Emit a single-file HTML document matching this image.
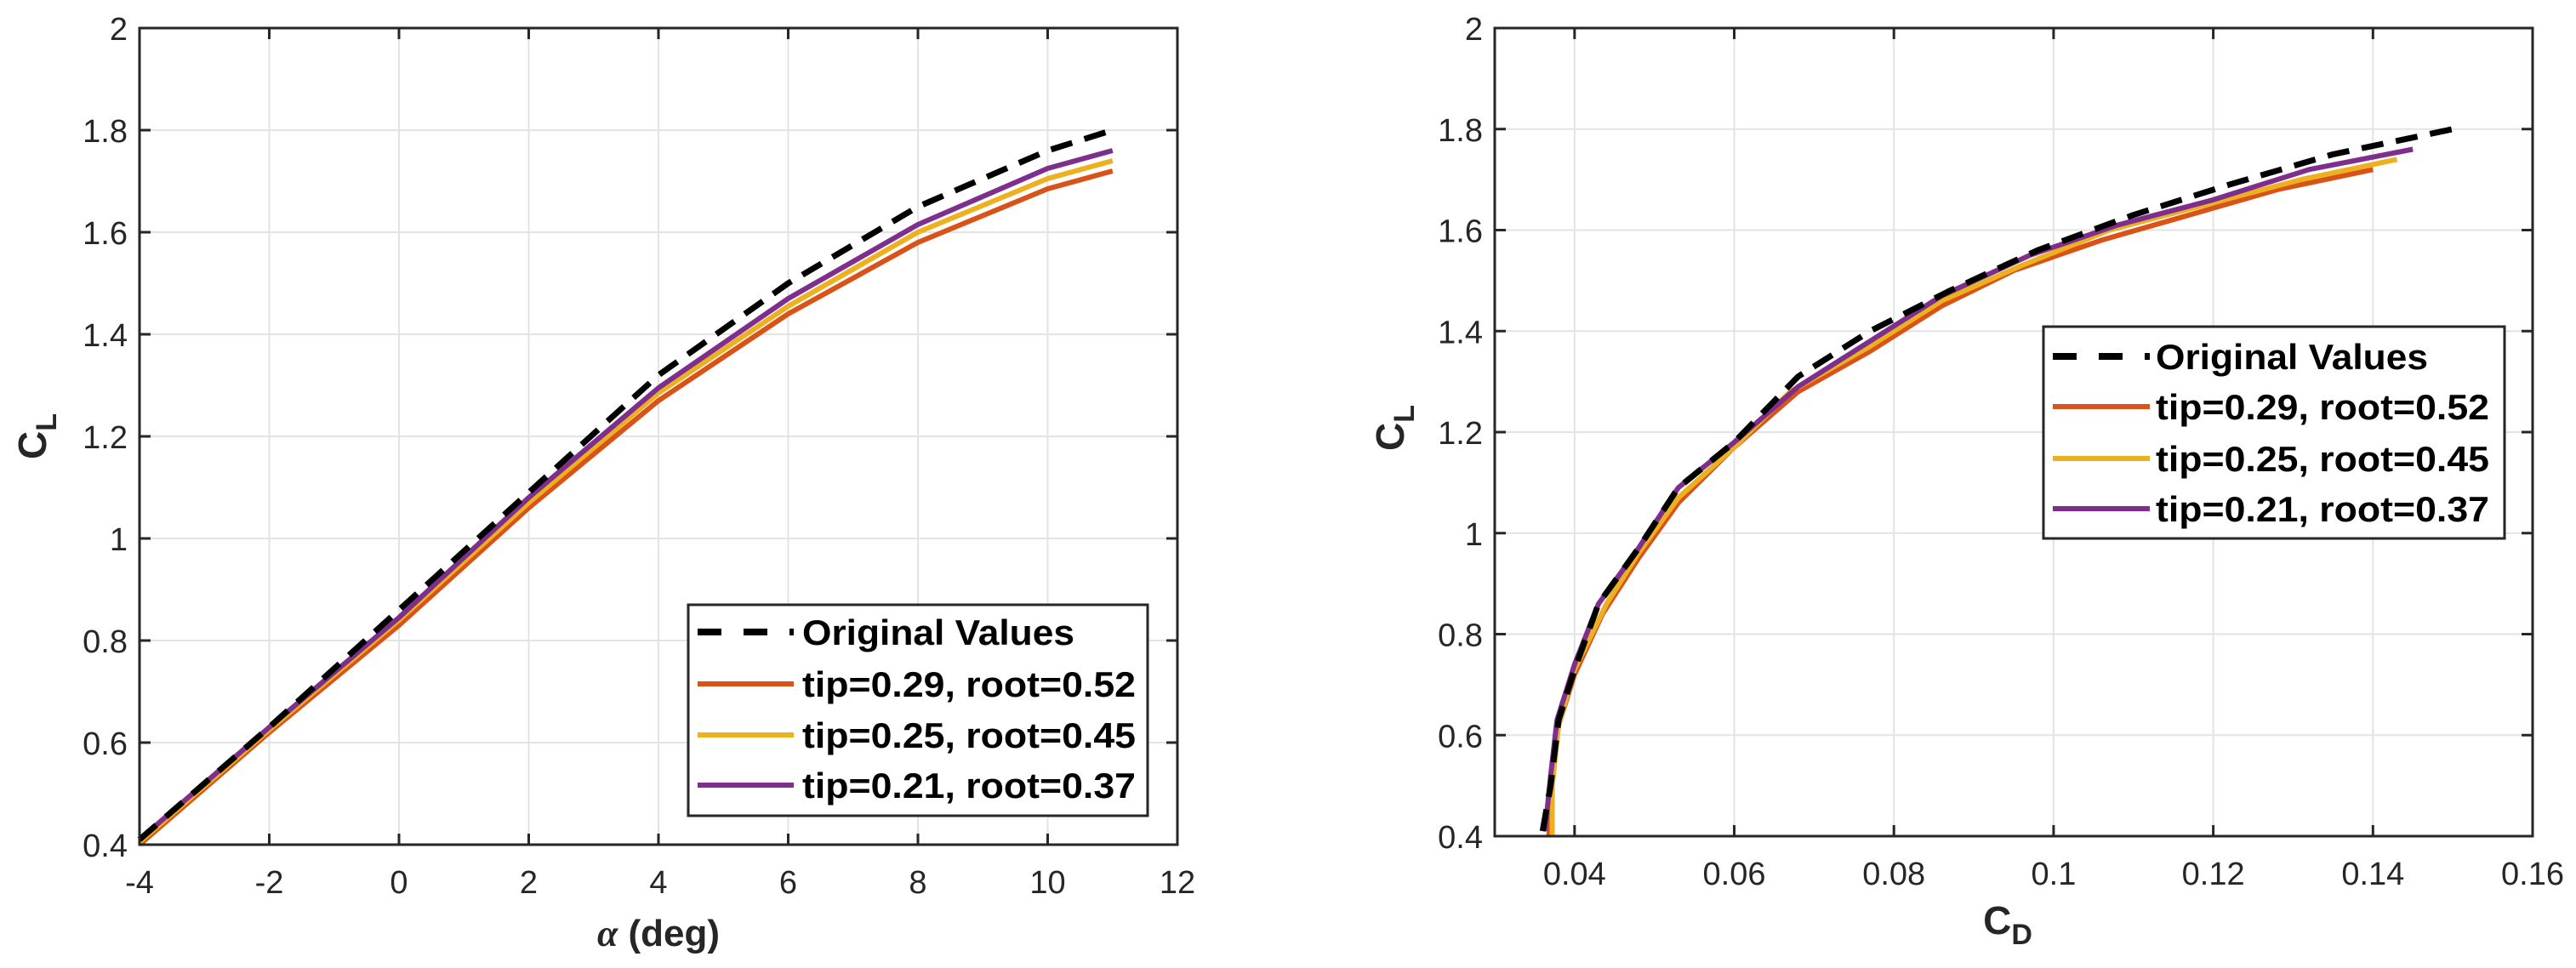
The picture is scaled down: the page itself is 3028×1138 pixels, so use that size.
<!DOCTYPE html>
<html><head><meta charset="utf-8">
<style>
html,body{margin:0;padding:0;background:#fff;}
svg{display:block;}
text{font-family:"Liberation Sans",Arial,sans-serif;}
</style></head>
<body>
<svg id="fig" width="3028" height="1138" viewBox="0 0 3028 1138" xmlns="http://www.w3.org/2000/svg">
<rect width="3028" height="1138" fill="#fff"/>
</svg>
<script>
// ---- Left chart data (CL vs alpha) ----
const alphaDeg = [-4, -2, 0, 2, 4, 6, 8, 10, 11];
const clOriginal = [0.41, 0.63, 0.86, 1.09, 1.32, 1.50, 1.65, 1.76, 1.80];
const clTip29 = [0.40, 0.62, 0.83, 1.06, 1.27, 1.44, 1.58, 1.685, 1.72];
const clTip25 = [0.405, 0.625, 0.84, 1.07, 1.285, 1.455, 1.60, 1.705, 1.74];
const clTip21 = [0.41, 0.63, 0.845, 1.08, 1.295, 1.47, 1.615, 1.725, 1.76];
const leftXTicks = [-4, -2, 0, 2, 4, 6, 8, 10, 12];
const yTicks = [0.4, 0.6, 0.8, 1, 1.2, 1.4, 1.6, 1.8, 2];

// ---- Right chart data (CL vs CD) ----
const cdOriginal = [0.036, 0.037, 0.038, 0.040, 0.043, 0.048, 0.053, 0.060, 0.068, 0.077, 0.087, 0.098, 0.110, 0.122, 0.135, 0.150];
const clOrigPolar = [0.41, 0.50, 0.63, 0.73, 0.86, 0.97, 1.09, 1.18, 1.31, 1.40, 1.48, 1.56, 1.63, 1.69, 1.75, 1.80];
const cdTip29 = [0.0368, 0.037, 0.0378, 0.040, 0.0435, 0.048, 0.053, 0.060, 0.068, 0.077, 0.086, 0.095, 0.106, 0.117, 0.128, 0.140];
const clTip29Polar = [0.40, 0.50, 0.61, 0.72, 0.84, 0.95, 1.06, 1.17, 1.28, 1.36, 1.45, 1.52, 1.58, 1.63, 1.68, 1.72];
const cdTip25 = [0.0372, 0.0372, 0.038, 0.040, 0.044, 0.048, 0.053, 0.060, 0.067, 0.077, 0.086, 0.096, 0.107, 0.119, 0.131, 0.143];
const clTip25Polar = [0.40, 0.50, 0.62, 0.73, 0.86, 0.96, 1.07, 1.17, 1.28, 1.37, 1.46, 1.53, 1.60, 1.65, 1.70, 1.74];
const cdTip21 = [0.0363, 0.037, 0.0378, 0.040, 0.043, 0.048, 0.053, 0.060, 0.068, 0.077, 0.086, 0.097, 0.108, 0.120, 0.132, 0.145];
const clTip21Polar = [0.41, 0.52, 0.63, 0.74, 0.86, 0.97, 1.09, 1.18, 1.29, 1.38, 1.47, 1.55, 1.61, 1.66, 1.72, 1.76];
const rightXTicks = [0.04, 0.06, 0.08, 0.1, 0.12, 0.14, 0.16];

const seriesNames = ["Original Values", "tip=0.29, root=0.52", "tip=0.25, root=0.45", "tip=0.21, root=0.37"];
const seriesColors = ["#000000", "#D95319", "#EDB120", "#7E2F8E"];

const NS = "http://www.w3.org/2000/svg";
const svg = document.getElementById("fig");
function mk(tag, attrs, parent) {
  const e = document.createElementNS(NS, tag);
  for (const k in attrs) e.setAttribute(k, attrs[k]);
  (parent || svg).appendChild(e);
  return e;
}

function drawAxes(g, L, T, R, B, xmin, xmax, xTicks, xLabelFmt, sx, sy) {
  xTicks.forEach(v => {
    const x = sx(v);
    const gl = mk("line", {x1: x, x2: x, y1: T, y2: B, stroke: "#e3e3e3", "stroke-width": 2}, g);
    
    
  });
  yTicks.forEach(v => {
    const y = sy(v);
    const gl = mk("line", {x1: L, x2: R, y1: y, y2: y, stroke: "#e3e3e3", "stroke-width": 2}, g);
    
    
  });
}

function drawFrame(g, L, T, R, B, xTicks, sx, sy) {
  const fr = mk("rect", {x: L, y: T, width: R - L, height: B - T, fill: "none", stroke: "#262626", "stroke-width": 3}, g);
  
  
  xTicks.forEach(v => {
    const x = sx(v);
    mk("line", {x1: x, x2: x, y1: B, y2: B - 13, stroke: "#262626", "stroke-width": 3}, g);
    mk("line", {x1: x, x2: x, y1: T, y2: T + 13, stroke: "#262626", "stroke-width": 3}, g);
    const t = mk("text", {x: x, y: B + 57, "text-anchor": "middle", "font-size": 38, fill: "#262626"}, g);
    
    
    t.textContent = String(v);
  });
  yTicks.forEach(v => {
    const y = sy(v);
    mk("line", {x1: L, x2: L + 13, y1: y, y2: y, stroke: "#262626", "stroke-width": 3}, g);
    mk("line", {x1: R, x2: R - 13, y1: y, y2: y, stroke: "#262626", "stroke-width": 3}, g);
    const t = mk("text", {x: L - 14, y: y + 14, "text-anchor": "end", "font-size": 38, fill: "#262626"}, g);
    
    
    t.textContent = String(v);
  });
}

function drawLine(g, xs, ys, sx, sy, idx, name) {
  const pts = xs.map((v, i) => sx(v).toFixed(1) + "," + sy(ys[i]).toFixed(1)).join(" ");
  const attrs = {points: pts, fill: "none", stroke: seriesColors[idx], "stroke-width": idx === 0 ? 7 : 6, "stroke-linejoin": "round"};
  if (idx === 0) attrs["stroke-dasharray"] = "26 15";
  const p = mk("polyline", attrs, g);
  
  
}

function drawLegend(g, x0, y0, x1, y1, rows, lx0, lx1, tx) {
  const box = mk("rect", {x: x0, y: y0, width: x1 - x0, height: y1 - y0, fill: "#fff", stroke: "#262626", "stroke-width": 3}, g);
  
  
  seriesNames.forEach((n, i) => {
    const y = rows[i];
    const ln = mk("line", {x1: lx0, x2: lx1, y1: y, y2: y, stroke: seriesColors[i], "stroke-width": i === 0 ? 8 : 6}, g);
    if (i === 0) ln.setAttribute("stroke-dasharray", "28 26");
    
    
    const t = mk("text", {x: tx, y: y + 15, "font-size": 42, "font-weight": "bold", fill: "#000"}, g);
    if (i > 0) { t.setAttribute("textLength", 392); t.setAttribute("lengthAdjust", "spacingAndGlyphs"); }
    else { t.setAttribute("textLength", 320); t.setAttribute("lengthAdjust", "spacingAndGlyphs"); }
    
    
    t.textContent = n;
  });
}

// ---------- Left chart ----------
(function () {
  const L = 164, T = 33, R = 1384, B = 993;
  const xmin = -4, xmax = 12, ymin = 0.4, ymax = 2;
  const sx = v => L + (v - xmin) / (xmax - xmin) * (R - L);
  const sy = v => B - (v - ymin) / (ymax - ymin) * (B - T);
  const g = mk("g", {});
  
  
  drawAxes(g, L, T, R, B, xmin, xmax, leftXTicks, null, sx, sy);
  drawLine(g, alphaDeg, clTip29, sx, sy, 1, 'series-tip-029');
  drawLine(g, alphaDeg, clTip25, sx, sy, 2, 'series-tip-025');
  drawLine(g, alphaDeg, clTip21, sx, sy, 3, 'series-tip-021');
  drawLine(g, alphaDeg, clOriginal, sx, sy, 0, 'series-original');
  drawFrame(g, L, T, R, B, leftXTicks, sx, sy);
  drawLegend(g, 809, 711, 1349, 959, [743, 804, 864, 923], 820, 933, 943);
  const yl = mk("text", {x: 0, y: 0, "font-size": 46, "font-weight": "bold", fill: "#262626", transform: "translate(54,540) rotate(-90)"}, g);
  
  
  yl.innerHTML = 'C<tspan font-size="34" dy="12">L</tspan>';
  const xl = mk("text", {x: 774, y: 1112, "text-anchor": "middle", "font-size": 44, "font-weight": "bold", fill: "#262626"}, g);
  
  
  xl.innerHTML = '<tspan font-family="Liberation Serif" font-style="italic">α</tspan> (deg)';
})();

// ---------- Right chart ----------
(function () {
  const L = 1757, T = 33, R = 2977, B = 983;
  const xmin = 0.03, xmax = 0.16, ymin = 0.4, ymax = 2;
  const sx = v => L + (v - xmin) / (xmax - xmin) * (R - L);
  const sy = v => B - (v - ymin) / (ymax - ymin) * (B - T);
  const g = mk("g", {});
  
  
  drawAxes(g, L, T, R, B, xmin, xmax, rightXTicks, null, sx, sy);
  drawLine(g, cdTip29, clTip29Polar, sx, sy, 1, 'series-tip-029');
  drawLine(g, cdTip25, clTip25Polar, sx, sy, 2, 'series-tip-025');
  drawLine(g, cdTip21, clTip21Polar, sx, sy, 3, 'series-tip-021');
  drawLine(g, cdOriginal, clOrigPolar, sx, sy, 0, 'series-original');
  drawFrame(g, L, T, R, B, rightXTicks, sx, sy);
  drawLegend(g, 2402, 384, 2944, 633, [419, 478, 539, 598], 2413, 2527, 2534);
  const yl = mk("text", {x: 0, y: 0, "font-size": 46, "font-weight": "bold", fill: "#262626", transform: "translate(1650,530) rotate(-90)"}, g);
  
  
  yl.innerHTML = 'C<tspan font-size="34" dy="12">L</tspan>';
  const xl = mk("text", {x: 2360, y: 1098, "text-anchor": "middle", "font-size": 46, "font-weight": "bold", fill: "#262626"}, g);
  
  
  xl.innerHTML = 'C<tspan font-size="34" dy="12">D</tspan>';
})();
</script>
</body></html>
